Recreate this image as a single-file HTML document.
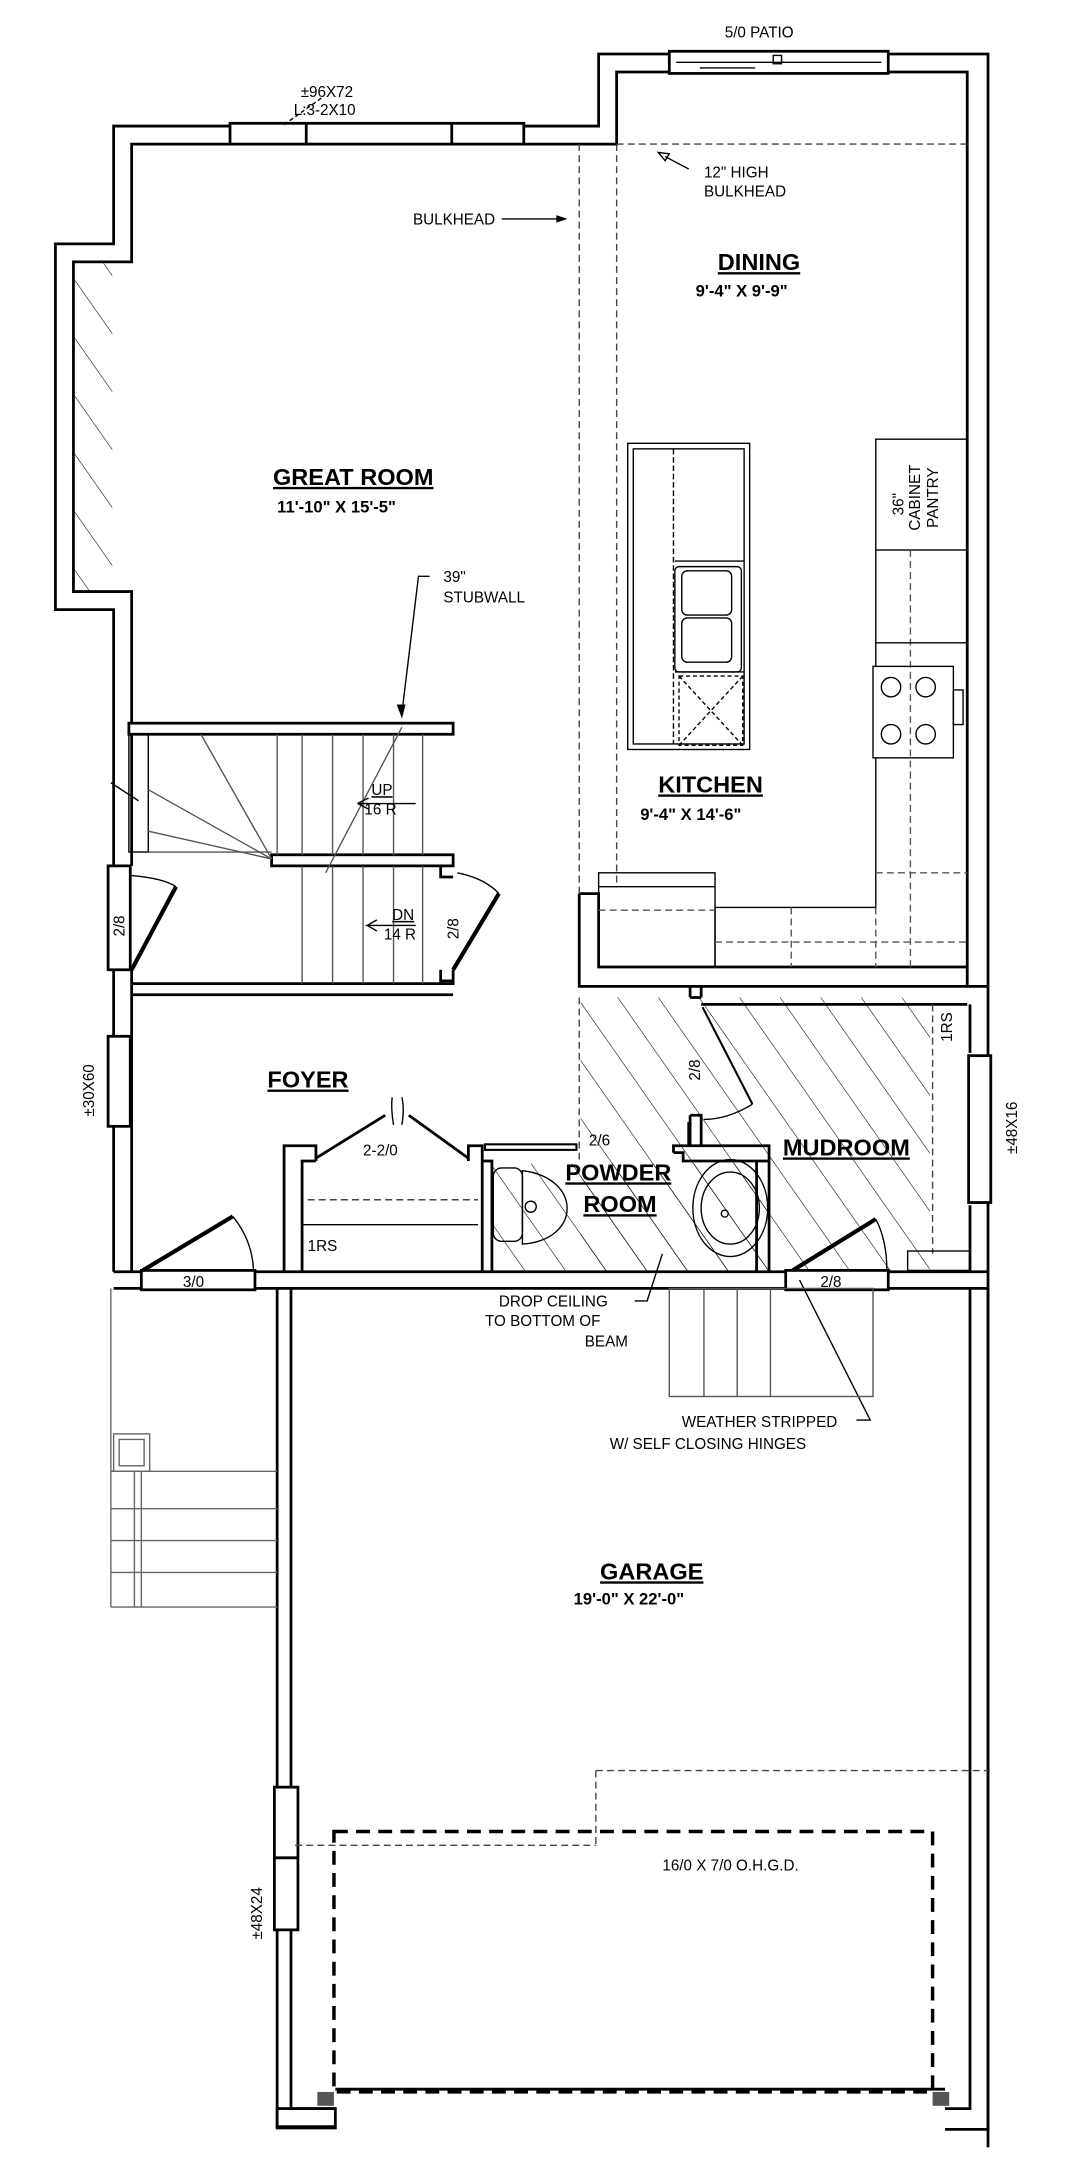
<!DOCTYPE html>
<html><head><meta charset="utf-8"><style>
html,body{margin:0;padding:0;background:#fff}
svg{display:block}
text{font-family:"Liberation Sans",sans-serif;fill:#000}
.t{font-size:11px}
.rn{font-size:17px;font-weight:bold;text-decoration:underline}
.dm{font-size:12px;font-weight:bold}
</style></head><body>
<svg width="1067" height="2182" viewBox="0 0 770 1575" preserveAspectRatio="none" xmlns="http://www.w3.org/2000/svg">
<defs>
<pattern id="h" patternUnits="userSpaceOnUse" width="24" height="24" patternTransform="rotate(-35)">
<line x1="0" y1="0" x2="0" y2="24" stroke="#000" stroke-width="0.8"/>
</pattern>
</defs>
<rect width="770" height="1575" fill="#fff"/>
<rect x="54" y="190" width="27" height="238" fill="url(#h)"/>
<rect x="419" y="720" width="252" height="197" fill="url(#h)"/>
<rect x="354" y="840" width="200" height="77" fill="url(#h)"/>
<g fill="none" stroke="#000" stroke-width="2">
<path d="M82,918 V440 H40 V176 H82 V91 H432 V39 H713 V1550"/>
<path d="M95,522 V427 H53 V189 H95 V104 H445 V52 H698 V712"/>
<path d="M95,530 V625 M95,700 V918"/>
<path d="M700,725 V760 M700,870 V917"/>
<path d="M418,645 V712 H713 M432,650 V698 H698"/>
<path d="M418,645 H432 V650"/>
<path d="M82,918 H102 M184,918 H567 M641,918 H713"/>
<path d="M82,930 H102 M184,930 H567 M641,930 H713"/>
<path d="M200,930 V1290 M200,1393 V1535 H242 M210,930 V1290 M210,1393 V1522 H242"/>
<path d="M700,930 V1522 H682 M713,930 V1537 H682"/>
<line x1="242" y1="1508" x2="682" y2="1508"/>
<rect x="200" y="1522" width="42" height="14"/>
<rect x="93" y="522" width="234" height="8"/>
<rect x="196" y="617" width="131" height="8"/>
<path d="M95,710 H327 V700 M95,718 H327"/>
<path d="M318,625 V633 H327 M318,700 V708 H327"/>
<path d="M205,918 V827 H228 V838 M218,918 V838 H228"/>
<path d="M228,836 L278,805 M295,805 L338,836"/>
<path d="M338,838 V827 H348 V918 M348,838 H355 V918"/>
<path d="M486,832 V827 H497 V810 M486,832 H493 V838 H546 V918 M497,838 H555 V918 M555,838 V827 H497"/>
<path d="M498,720 V712 M506,720 V712"/>
<path d="M498,720 H506 M498,805 H506 V827 M498,805 V827"/>
<path d="M506,725 H698"/>
</g>
<g fill="#fff" stroke="#000" stroke-width="2">
<rect x="166" y="89" width="212" height="15"/>
<line x1="221" y1="89" x2="221" y2="104"/><line x1="326" y1="89" x2="326" y2="104"/>
<rect x="483" y="37" width="158" height="16"/>
<rect x="78" y="625" width="16" height="75"/>
<rect x="78" y="748" width="16" height="65"/>
<rect x="699" y="762" width="16" height="106"/>
<rect x="198" y="1290" width="17" height="103"/>
<line x1="198" y1="1341" x2="215" y2="1341"/>
<rect x="102" y="917" width="82" height="14"/>
<rect x="567" y="917" width="74" height="14"/>
</g>
<g fill="none" stroke="#000" stroke-width="1">
<line x1="488" y1="45" x2="636" y2="45"/>
<rect x="558" y="40" width="6" height="6"/>
<line x1="505" y1="49" x2="545" y2="49"/>
<line x1="205" y1="90" x2="233" y2="70" stroke-dasharray="3,2"/>
<g stroke-dasharray="5,3" stroke="#444">
<line x1="418" y1="104" x2="418" y2="645"/>
<line x1="418" y1="720" x2="418" y2="840"/>
<line x1="445" y1="104" x2="445" y2="640"/>
<line x1="445" y1="104" x2="698" y2="104"/>
<line x1="430" y1="1278" x2="713" y2="1278"/>
<line x1="430" y1="1278" x2="430" y2="1332"/>
<line x1="213" y1="1332" x2="430" y2="1332"/>
<line x1="673" y1="725" x2="673" y2="905"/>
<line x1="222" y1="866" x2="345" y2="866"/>
</g>
<path d="M362,158 H408"/><path d="M408,158 l-6,-2 v4 z" fill="#000"/>
<path d="M497,122 L480,113 M475,110 l8,1 -3,5 z"/>
<path d="M310,416 H302 L290,515"/><path d="M290,517 l-3,-8 5,0 z" fill="#000"/>
<path d="M458,939 H467 L478,905"/>
<path d="M618,1025 H628 L577,924"/>
<rect x="93" y="530" width="14" height="85"/>
<line x1="80" y1="565" x2="100" y2="578"/>
<g stroke="#555">
<line x1="200" y1="530" x2="200" y2="617"/><line x1="218" y1="530" x2="218" y2="617"/>
<line x1="240" y1="530" x2="240" y2="617"/><line x1="262" y1="530" x2="262" y2="617"/>
<line x1="284" y1="530" x2="284" y2="617"/><line x1="305" y1="530" x2="305" y2="617"/>
<line x1="218" y1="625" x2="218" y2="710"/><line x1="240" y1="625" x2="240" y2="710"/>
<line x1="262" y1="625" x2="262" y2="710"/><line x1="284" y1="625" x2="284" y2="710"/>
<line x1="305" y1="625" x2="305" y2="710"/>
<line x1="107" y1="600" x2="196" y2="620"/><line x1="107" y1="570" x2="196" y2="620"/>
<line x1="145" y1="530" x2="196" y2="620"/><line x1="107" y1="615" x2="196" y2="615"/>
<line x1="290" y1="525" x2="235" y2="630"/>
</g>
<path d="M300,580 H258 L266,576 M258,580 L266,584"/>
<path d="M300,668 H265 L272,664 M265,668 L272,672"/>
<line x1="95" y1="700" x2="127" y2="640" stroke-width="3"/>
<path d="M95,632 Q118,634 127,640"/>
<line x1="327" y1="700" x2="360" y2="645" stroke-width="3"/>
<path d="M330,630 Q350,634 360,645"/>
<line x1="103" y1="917" x2="168" y2="878" stroke-width="3"/>
<path d="M168,878 Q182,895 183,917"/>
<line x1="572" y1="917" x2="632" y2="880" stroke-width="3"/>
<path d="M632,880 Q640,895 640,917"/>
<line x1="507" y1="727" x2="543" y2="797" stroke-width="1.5"/>
<path d="M543,797 Q525,808 508,808"/>
<path d="M284,812 Q282,800 283,792 M290,812 Q292,800 290,792"/>
<rect x="350" y="826" width="66" height="4" stroke-width="1.5"/>
<rect x="453" y="320" width="88" height="221"/>
<rect x="457" y="324" width="80" height="213"/>
<line x1="486" y1="324" x2="486" y2="537" stroke-dasharray="4,2"/>
<line x1="487" y1="405" x2="537" y2="405"/>
<rect x="487" y="409" width="48" height="76" rx="3"/>
<rect x="492" y="412" width="36" height="32" rx="4"/>
<rect x="492" y="446" width="36" height="32" rx="4"/>
<line x1="487" y1="485" x2="537" y2="485"/>
<rect x="490" y="488" width="46" height="50" stroke-dasharray="3,2"/>
<line x1="490" y1="488" x2="536" y2="538" stroke-dasharray="3,2"/>
<line x1="536" y1="488" x2="490" y2="538" stroke-dasharray="3,2"/>
<rect x="632" y="317" width="66" height="80"/>
<path d="M632,397 V481 M632,547 V655 H516 V698"/>
<line x1="657" y1="397" x2="657" y2="698" stroke-dasharray="5,3" stroke="#555"/>
<line x1="632" y1="464" x2="698" y2="464"/>
<rect x="630" y="481" width="58" height="66"/>
<circle cx="643" cy="496" r="7"/><circle cx="668" cy="496" r="7"/>
<circle cx="643" cy="530" r="7"/><circle cx="668" cy="530" r="7"/>
<rect x="688" y="498" width="7" height="25"/>
<rect x="432" y="630" width="84" height="68"/>
<line x1="432" y1="640" x2="516" y2="640"/>
<g stroke-dasharray="5,3" stroke="#555">
<line x1="432" y1="657" x2="516" y2="657"/>
<line x1="516" y1="680" x2="698" y2="680"/>
<line x1="571" y1="655" x2="571" y2="698"/>
<line x1="632" y1="655" x2="632" y2="698"/>
<line x1="632" y1="630" x2="698" y2="630"/>
</g>
<rect x="356" y="843" width="21" height="53" rx="6"/>
<path d="M377,845 C420,850 420,895 377,898 Z"/>
<circle cx="383" cy="871" r="4"/>
<ellipse cx="527" cy="872" rx="27" ry="35"/>
<ellipse cx="527" cy="872" rx="21" ry="26"/>
<circle cx="523" cy="876" r="2.5"/>
<line x1="218" y1="884" x2="345" y2="884"/>
<rect x="655" y="903" width="45" height="14"/>
<rect x="483" y="930" width="147" height="78" stroke="#555"/>
<line x1="508" y1="930" x2="508" y2="1008" stroke="#555"/>
<line x1="532" y1="930" x2="532" y2="1008" stroke="#555"/>
<line x1="556" y1="930" x2="556" y2="1008" stroke="#555"/>
<g stroke="#666">
<line x1="80" y1="930" x2="80" y2="1160"/>
<line x1="80" y1="1062" x2="200" y2="1062"/>
<line x1="80" y1="1089" x2="200" y2="1089"/>
<line x1="80" y1="1112" x2="200" y2="1112"/>
<line x1="80" y1="1135" x2="200" y2="1135"/>
<line x1="80" y1="1160" x2="200" y2="1160"/>
<line x1="97" y1="1062" x2="97" y2="1160"/><line x1="102" y1="1062" x2="102" y2="1160"/>
<rect x="82" y="1035" width="26" height="27"/>
<rect x="86" y="1039" width="18" height="19"/>
</g>
</g>
<rect x="241" y="1322" width="432" height="188" fill="none" stroke="#000" stroke-width="2.5" stroke-dasharray="10,6"/>
<rect x="229" y="1510" width="12" height="10" fill="#555"/>
<rect x="673" y="1510" width="12" height="10" fill="#555"/>
<text class="t" x="523" y="27">5/0  PATIO</text>
<text class="t" x="217" y="70">±96X72</text>
<text class="t" x="212" y="83">L:3-2X10</text>
<text class="t" x="508" y="128">12"  HIGH</text>
<text class="t" x="508" y="142">BULKHEAD</text>
<text class="t" x="298" y="162">BULKHEAD</text>
<text class="rn" x="518" y="195">DINING</text>
<text class="dm" x="502" y="214">9'-4"  X  9'-9"</text>
<text class="rn" x="197" y="350">GREAT  ROOM</text>
<text class="dm" x="200" y="370">11'-10"  X  15'-5"</text>
<text class="t" x="320" y="420">39"</text>
<text class="t" x="320" y="435">STUBWALL</text>
<text class="t" transform="translate(652,372) rotate(-90)">36"</text>
<text class="t" transform="translate(664,383) rotate(-90)">CABINET</text>
<text class="t" transform="translate(677,381) rotate(-90)">PANTRY</text>
<text class="rn" x="475" y="572">KITCHEN</text>
<text class="dm" x="462" y="592">9'-4"  X  14'-6"</text>
<text class="t" x="268" y="574" text-decoration="underline">UP</text>
<text class="t" x="263" y="588">16  R</text>
<text class="t" x="283" y="664" text-decoration="underline">DN</text>
<text class="t" x="277" y="678">14  R</text>
<text class="t" transform="translate(90,676) rotate(-90)">2/8</text>
<text class="t" transform="translate(331,678) rotate(-90)">2/8</text>
<text class="t" transform="translate(505,780) rotate(-90)">2/8</text>
<text class="t" transform="translate(687,752) rotate(-90)">1RS</text>
<text class="t" transform="translate(68,806) rotate(-90)">±30X60</text>
<text class="t" transform="translate(734,833) rotate(-90)">±48X16</text>
<text class="rn" x="193" y="785">FOYER</text>
<text class="t" x="262" y="834">2-2/0</text>
<text class="t" x="425" y="827">2/6</text>
<text class="rn" x="408" y="852">POWDER</text>
<text class="rn" x="421" y="875">ROOM</text>
<text class="rn" x="565" y="834">MUDROOM</text>
<text class="t" x="222" y="903">1RS</text>
<text class="t" x="132" y="929">3/0</text>
<text class="t" x="592" y="929">2/8</text>
<text class="t" x="360" y="943">DROP  CEILING</text>
<text class="t" x="350" y="957">TO  BOTTOM  OF</text>
<text class="t" x="422" y="972">BEAM</text>
<text class="t" x="492" y="1030">WEATHER  STRIPPED</text>
<text class="t" x="440" y="1046">W/  SELF  CLOSING  HINGES</text>
<text class="rn" x="433" y="1140">GARAGE</text>
<text class="dm" x="414" y="1158">19'-0"  X  22'-0"</text>
<text class="t" x="478" y="1350">16/0  X  7/0  O.H.G.D.</text>
<text class="t" transform="translate(189,1400) rotate(-90)">±48X24</text>
</svg>
</body></html>
